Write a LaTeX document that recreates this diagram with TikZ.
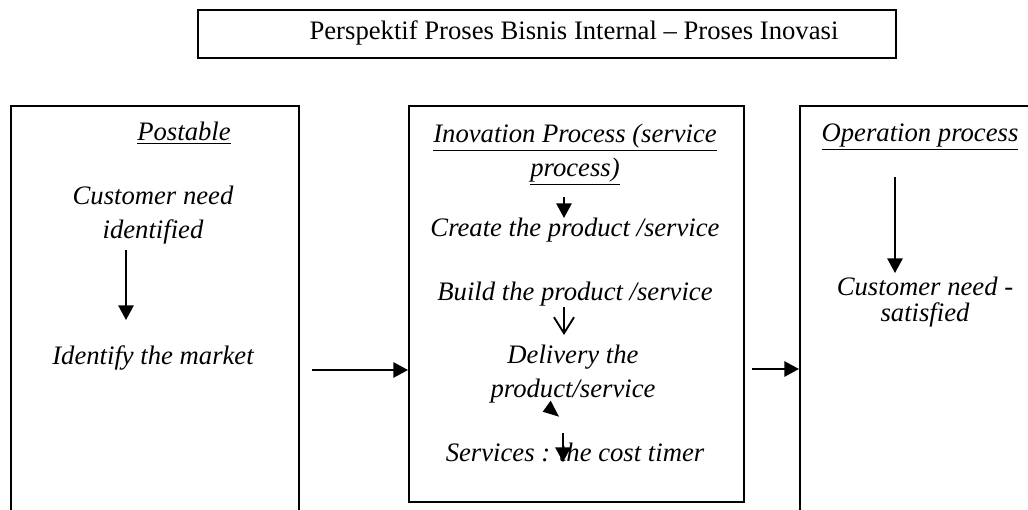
\documentclass[tikz,border=0pt]{standalone}
\usepackage{fontspec}
\setmainfont{Liberation Serif}
\usetikzlibrary{arrows.meta}

\begin{document}
\begin{tikzpicture}[x=0.75pt, y=-0.75pt, line width=1.4pt,
	box node/.style={rectangle,draw,anchor=north west,inner sep=0pt},
	text node/.style={align=center,inner sep=0pt,font=\fontsize{20}{25}\selectfont\itshape},
	fill tip/.style={-{Triangle[length=11pt,width=11.5pt]}},
	open tip/.style={-{Straight Barb[length=12pt,width=15pt]}}]
	
	\path[use as bounding box] (0,0) rectangle (1028,510);
	\clip (0,0) rectangle (1028,510);
	
	% boxes
	\node[box node,minimum width=216pt,minimum height=330pt] (postbox) at (10,105) {};
	\node[box node,minimum width=251.25pt,minimum height=297pt] (inobox) at (408,105) {};
	\node[box node,minimum width=200pt,minimum height=330pt] (opbox) at (799,105) {};
	\node[box node,minimum width=523.5pt,minimum height=36pt] (titlebox) at (197,9) {};
	\node[font=\fontsize{20}{24}\selectfont] (title) at (574,33) {Perspektif Proses Bisnis Internal -- Proses Inovasi};
	
	% texts
	\node[text node] (post) at (184,133) {\underline{Postable}};
	\node[text node] (need) at (153,215) {Customer need\\identified};
	\node[text node] (market) at (153,358) {Identify the market};
	\node[text node] (inohead) at (575,154.5) {\underline{Inovation Process (service}\\[1pt]\underline{process)}};
	\node[text node] (create) at (575,230) {Create the product /service};
	\node[text node] (build) at (575,294) {Build the product /service};
	\node[text node] (deliver) at (573,374) {Delivery the\\product/service};
	\node[text node] (serve) at (575,452) {Services : the cost timer};
	\node[text node] (ophead) at (920,137) {\underline{Operation process}};
	\node[text node] (satisfied) at (925,302) {Customer need -\\[-6pt]satisfied};
	
	\coordinate (n1) at (126,250);
	\coordinate (n2) at (126,320);
	\coordinate (c1) at (564,197);
	\coordinate (c2) at (564,218);
	\coordinate (b1) at (564,307);
	\coordinate (b2) at (564,335);
	\coordinate (s1) at (563,433);
	\coordinate (s2) at (563,462);
	\coordinate (o1) at (895,177);
	\coordinate (o2) at (895,273);
	\coordinate (g1) at (312,370);
	\coordinate (g2) at (752,369);
	
	\path[fill tip]
	(n1) edge (n2)
	(c1) edge (c2)
	(s1) edge (s2)
	(o1) edge (o2)
	(g1) edge (inobox.west |- g1)
	(g2) edge (opbox.west |- g2);
	\path[open tip] (b1) edge (b2);
	\fill (550.7,400.7) -- (542.7,411.7) -- (559,416.7) -- cycle;
\end{tikzpicture}
\end{document}
